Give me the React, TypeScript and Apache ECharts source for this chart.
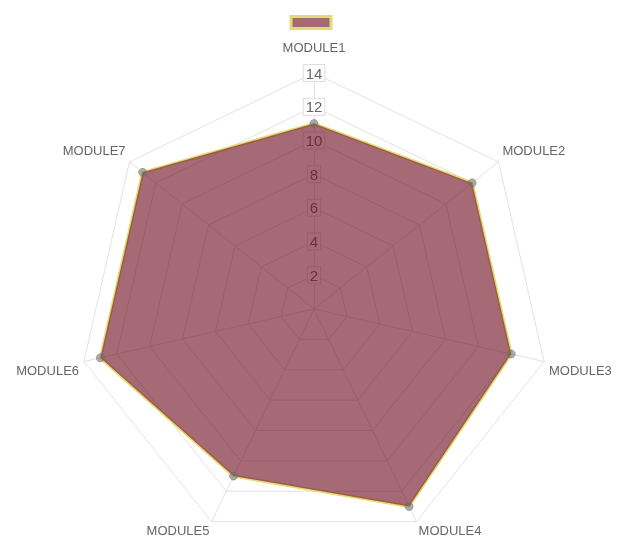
import React, { useEffect, useRef } from "react";
import * as echarts from "echarts";

const categories = ["MODULE1", "MODULE2", "MODULE3", "MODULE4", "MODULE5", "MODULE6", "MODULE7"];
const values = [11, 12, 12, 13, 11, 13, 13];
const axisMax = 14;
const seriesName = "score";

const FILL = "rgba(112,14,34,0.62)";
const BORDER = "#e4db76";
const GRID = "#e2e2e2";
const FONT = "Liberation Sans, Arial, sans-serif";

// ECharts radar runs counter-clockwise; reorder so the picture goes clockwise
const order = [0, ...categories.map((_, i) => i).slice(1).reverse()];

// label style keys per indicator position (top / upper sides / lower sides / bottom)
const nameStyleKey = ["top", "up", "mid", "low", "low", "mid", "up"];

export default function App() {
  const ref = useRef<HTMLDivElement>(null);
  useEffect(() => {
    if (!ref.current) return;
    const chart = echarts.init(ref.current, null, { renderer: "svg" });
    const base = { color: "#666", fontSize: 13, fontFamily: FONT };
    chart.setOption({
      animation: false,
      legend: {
        top: 10,
        left: "center",
        itemWidth: 40,
        itemHeight: 12,
        formatter: () => "",
        data: [
          {
            name: seriesName,
            icon: "rect",
            itemStyle: { color: FILL, borderColor: BORDER, borderWidth: 3 },
          },
        ],
      },
      radar: {
        center: [314, 309],
        radius: 236,
        shape: "polygon",
        splitNumber: 7,
        startAngle: 90,
        nameGap: 5,
        axisName: {
          ...base,
          formatter: (name: string) => "{" + nameStyleKey[categories.indexOf(name)] + "|" + name + "}",
          rich: {
            top: { ...base, padding: [0, 0, 14, 0] },
            up: { ...base, padding: [0, 0, 16, 0] },
            mid: { ...base, padding: [16, 0, 0, 0] },
            low: { ...base, padding: [8, 0, 0, 0] },
          },
        },
        axisLine: { lineStyle: { color: GRID, width: 1 } },
        splitLine: { lineStyle: { color: GRID, width: 1 } },
        splitArea: { show: false },
        axisTick: { show: false },
        axisLabel: { show: false },
        indicator: order.map((i) =>
          i === 0
            ? {
                name: categories[i],
                min: 0,
                max: axisMax,
                axisLabel: {
                  show: true,
                  showMinLabel: false,
                  margin: 0,
                  align: "center",
                  verticalAlign: "middle",
                  color: "#666",
                  fontSize: 15,
                  fontFamily: FONT,
                  backgroundColor: "#fff",
                  borderColor: "#ddd",
                  borderWidth: 1,
                  padding: [1, 2, 0, 2],
                },
              }
            : { name: categories[i], min: 0, max: axisMax }
        ),
      },
      series: [
        {
          type: "radar",
          name: seriesName,
          symbol: "circle",
          symbolSize: 8,
          itemStyle: { color: "rgba(110,110,110,0.55)", borderColor: "rgba(110,110,110,0.55)" },
          lineStyle: { color: BORDER, width: 3 },
          areaStyle: { color: FILL, opacity: 1 },
          data: [{ name: seriesName, value: order.map((i) => values[i]) }],
        },
      ],
    });
    return () => chart.dispose();
  }, []);
  return <div ref={ref} style={{ position: "fixed", left: 0, top: 0, width: 622, height: 546 }} />;
}
